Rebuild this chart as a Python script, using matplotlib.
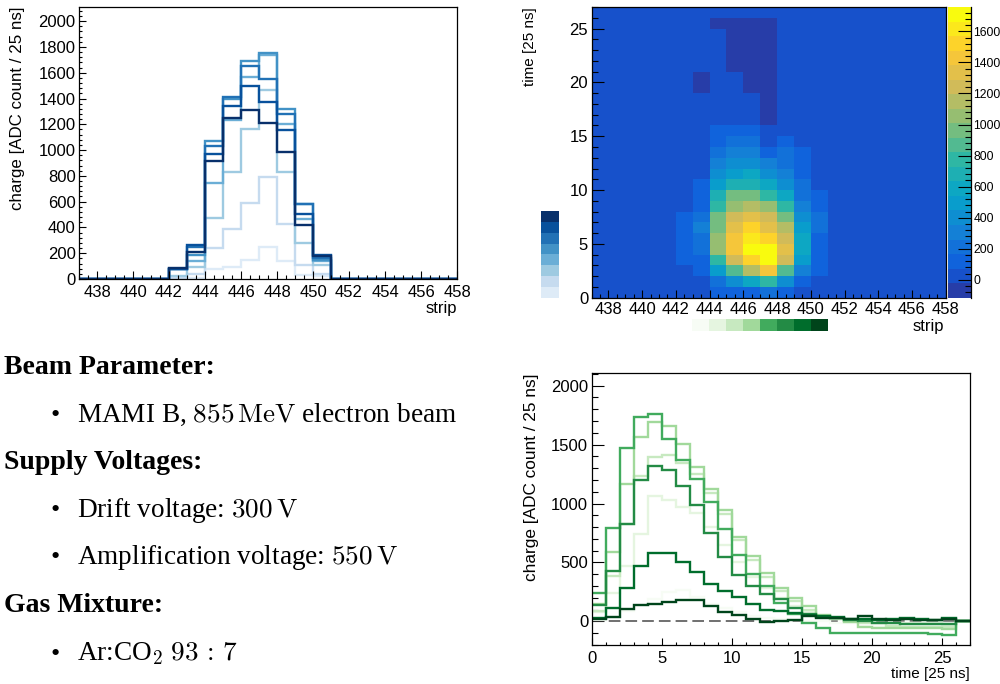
import numpy as np
import matplotlib
matplotlib.use("Agg")
import matplotlib.pyplot as plt
from matplotlib.colors import ListedColormap, BoundaryNorm, LinearSegmentedColormap
from matplotlib.ticker import MultipleLocator

plt.rcParams['font.family'] = ['Liberation Sans', 'DejaVu Sans']
plt.rcParams['mathtext.fontset'] = 'cm'

# ---- binning -------------------------------------------------------------
strip_edges = np.arange(437, 459)      # strips 437 .. 457
time_edges = np.arange(0, 28)          # time bins 0 .. 26 (25 ns each)

# ---- charge per time bin for the strips that see the beam ----------------
q442 = [0, 5, 25, 75, 76, 78, 80, 85, 40, 20, 10, 5, 0, 0, 0, 0, 0, 0, 0, 0, 0, 0, 0, 0, 0, 0, 0]
q443 = [10, 40, 90, 142, 190, 250, 266, 210, 150, 110, 80, 50, 30, 20, 10, 5, 0, -10, -15, -40, -40, -20, -10, -10, -10, -10, 0]
q444 = [78, 240, 473, 744, 1067, 1028, 972, 917, 800, 650, 500, 380, 280, 200, 130, 80, 40, 20, 10, 0, -10, -15, -15, -15, -15, -40, 0]
q445 = [90, 388, 830, 1235, 1395, 1415, 1343, 1248, 1090, 915, 690, 520, 380, 260, 170, 100, 50, 20, 0, -10, -15, -40, -45, -45, -45, -50, 0]
q446 = [150, 587, 1165, 1568, 1690, 1655, 1501, 1313, 1122, 947, 720, 557, 410, 282, 198, 133, 56, 28, -5, -45, -55, -60, -60, -60, -60, -65, 0]
q447 = [245, 790, 1470, 1735, 1757, 1548, 1370, 1209, 1017, 780, 565, 400, 297, 160, 60, -15, -56, -99, -100, -98, -100, -102, -100, -100, -105, -115, 0]
q448 = [141, 424, 828, 1204, 1318, 1281, 1152, 989, 750, 545, 396, 297, 234, 189, 110, 60, 40, 30, 10, 0, -10, -15, -20, -20, -20, -20, 0]
q449 = [28, 110, 283, 466, 579, 579, 503, 420, 320, 254, 204, 144, 99, 85, 71, 51, 45, 35, 20, 20, 15, 20, 30, 20, 15, 30, 0]
q450 = [20, 37, 105, 139, 147, 164, 186, 181, 133, 79, 51, 20, -8, 0, 14, 48, 28, 28, 20, 48, 20, 8, 20, 14, 8, 20, 0]

strip_profiles = {442: q442, 443: q443, 444: q444, 445: q445, 446: q446,
                  447: q447, 448: q448, 449: q449, 450: q450}

slice_times = [0, 1, 2, 3, 4, 5, 6, 7]                      # strip profiles drawn
profile_strips = [443, 444, 445, 446, 447, 448, 449, 450]   # time profiles drawn

blues = ['#deebf7', '#c6dbef', '#9ecae1', '#6baed6', '#4292c6', '#2171b5', '#08519c', '#08306b']
greens = ['#f7fcf5', '#e5f5e0', '#c7e9c0', '#a1d99b', '#41ab5d', '#238b45', '#006d2c', '#00441b']

y_ticks_colz = [0, 200, 400, 600, 800, 1000, 1200, 1400, 1600]

# ---- ROOT "bird" palette, 20 contour levels ------------------------------
bird_stops = [0.0, 0.125, 0.25, 0.375, 0.5, 0.625, 0.75, 0.875, 1.0]
bird_r = [0.2082, 0.0592, 0.0780, 0.0232, 0.1802, 0.5301, 0.8186, 0.9956, 0.9764]
bird_g = [0.1664, 0.3599, 0.5041, 0.6419, 0.7178, 0.7492, 0.7328, 0.7862, 0.9832]
bird_b = [0.5293, 0.8684, 0.8385, 0.7914, 0.6425, 0.4662, 0.3499, 0.1968, 0.0539]
bird = LinearSegmentedColormap.from_list(
    'bird', list(zip(bird_stops, zip(bird_r, bird_g, bird_b))), N=255)
n_levels = 20
bird20 = ListedColormap([bird(int((i + 0.99) * 255 / n_levels) / 254.0) for i in range(n_levels)])

# ---- 2D charge map -------------------------------------------------------
charge = np.zeros((len(time_edges) - 1, len(strip_edges) - 1))
for s, q in strip_profiles.items():
    charge[:, s - strip_edges[0]] = q

levels = np.linspace(charge.min(), charge.max(), n_levels + 1)
norm = BoundaryNorm(levels, n_levels)

W, H = 1000, 684
fig = plt.figure(figsize=(W / 100, H / 100), dpi=100)


def box(x0, y0, x1, y1):
    return [x0 / W, 1 - y1 / H, (x1 - x0) / W, (y1 - y0) / H]


def style_axis(ax, xlen, xmin, ylen, ymin):
    for sp in ax.spines.values():
        sp.set_linewidth(0.9)
        sp.set_color('black')
    ax.tick_params(axis='both', which='both', direction='in', top=False, right=False,
                   width=0.8, colors='black', labelsize=12)
    ax.tick_params(axis='x', which='major', length=xlen, pad=4.0)
    ax.tick_params(axis='x', which='minor', length=xmin)
    ax.tick_params(axis='y', which='major', length=ylen, pad=2.5)
    ax.tick_params(axis='y', which='minor', length=ymin)


def top_ylabel(ax, text, size, xpos):
    # axis title pinned to the upper end of the axis
    ax.set_ylabel(text, fontsize=size, ha='right', va='center')
    ax.yaxis.set_label_coords(xpos, 1.0)


# ---- strip profiles ------------------------------------------------------
ax1 = fig.add_axes(box(79, 7, 457, 279))
for t, c in zip(slice_times, blues):
    ax1.stairs(charge[t], strip_edges, baseline=None, color=c, lw=1.7)
ax1.set_xlim(437, 458)
ax1.set_ylim(0, 2110)
ax1.xaxis.set_major_locator(MultipleLocator(2))
ax1.xaxis.set_minor_locator(MultipleLocator(0.5))
ax1.yaxis.set_major_locator(MultipleLocator(200))
ax1.yaxis.set_minor_locator(MultipleLocator(40))
style_axis(ax1, 5.8, 2.9, 5.0, 2.5)
ax1.set_xlabel('strip', fontsize=12, ha='right', va='center')
ax1.xaxis.set_label_coords(1.0, -0.110)
top_ylabel(ax1, 'charge [ADC count / 25 ns]', 12.2, -0.163)

# ---- strip vs time map ---------------------------------------------------
ax2 = fig.add_axes(box(591.6, 7, 945.7, 297.7))
mesh = ax2.pcolormesh(strip_edges, time_edges, charge, cmap=bird20, norm=norm)
ax2.set_xlim(437, 458)
ax2.set_ylim(0, 27)
ax2.xaxis.set_major_locator(MultipleLocator(2))
ax2.xaxis.set_minor_locator(MultipleLocator(0.5))
ax2.yaxis.set_major_locator(MultipleLocator(5))
ax2.yaxis.set_minor_locator(MultipleLocator(1))
style_axis(ax2, 5.5, 2.8, 8.4, 4.6)
ax2.tick_params(axis='x', which='major', pad=3.0)
ax2.set_xlabel('strip', fontsize=12, ha='right', va='center')
ax2.xaxis.set_label_coords(0.995, -0.100)
top_ylabel(ax2, 'time [25 ns]', 11, -0.174)

# palette axis
cax = fig.add_axes(box(947.5, 7, 970.7, 297.7))
cax.pcolormesh([0, 1], levels, ((levels[:-1] + levels[1:]) / 2)[:, None],
               cmap=bird20, norm=norm)
cax.set_xlim(0, 1)
cax.set_ylim(levels[0], levels[-1])
for sp in cax.spines.values():
    sp.set_visible(False)
cax.spines['right'].set_visible(True)
cax.spines['right'].set_linewidth(0.9)
cax.set_xticks([])
cax.yaxis.tick_right()
cax.set_yticks(y_ticks_colz)
cax.yaxis.set_minor_locator(MultipleLocator(40))
cax.tick_params(axis='y', which='both', direction='in', left=False, right=True,
                width=0.8, colors='black', labelsize=8.7, pad=2)
cax.tick_params(axis='y', which='major', length=9.3)
cax.tick_params(axis='y', which='minor', length=4.5)

# colour keys of the drawn slices
kax_t = fig.add_axes(box(540.7, 211, 559, 298))
kax_t.pcolormesh(np.arange(len(blues))[:, None], cmap=ListedColormap(blues))
kax_t.set_axis_off()

kax_s = fig.add_axes(box(692, 319, 828, 331))
kax_s.pcolormesh(np.arange(len(greens))[None, :], cmap=ListedColormap(greens))
kax_s.set_axis_off()

# ---- time profiles -------------------------------------------------------
ax3 = fig.add_axes(box(591.7, 373.3, 970, 645))
ax3.axhline(0, color='#707070', lw=1.4, ls=(0, (6, 2.6)), zorder=1)
for s, c in zip(profile_strips, greens):
    ax3.stairs(charge[:, s - strip_edges[0]], time_edges, baseline=None, color=c, lw=1.7, zorder=2)
ax3.set_xlim(0, 27)
ax3.set_ylim(-200, 2105)
ax3.xaxis.set_major_locator(MultipleLocator(5))
ax3.xaxis.set_minor_locator(MultipleLocator(1))
ax3.yaxis.set_major_locator(MultipleLocator(500))
ax3.yaxis.set_minor_locator(MultipleLocator(100))
style_axis(ax3, 4.8, 2.4, 8.4, 4.6)
ax3.set_xlabel('time [25 ns]', fontsize=11, ha='right', va='center')
ax3.xaxis.set_label_coords(1.0, -0.107)
top_ylabel(ax3, 'charge [ADC count / 25 ns]', 12.4, -0.159)

# ---- run conditions ------------------------------------------------------
serif = ['Liberation Serif', 'DejaVu Serif']
headings = [('Beam Parameter:', 374.3), ('Supply Voltages:', 469.3), ('Gas Mixture:', 611.7)]
items = [(r'MAMI B, $855\,\mathrm{MeV}$ electron beam', 421.7),
         (r'Drift voltage: $300\,\mathrm{V}$', 516.7),
         (r'Amplification voltage: $550\,\mathrm{V}$', 564.0),
         (r'Ar:CO$_2$ $93\,:\,7$', 660.7)]
for txt, yb in headings:
    fig.text(4 / W, 1 - yb / H, txt, family=serif, weight='bold', fontsize=20,
             ha='left', va='baseline')
for txt, yb in items:
    fig.text(50 / W, 1 - yb / H, '\u2022', family=serif, fontsize=19,
             ha='left', va='baseline')
    fig.text(77 / W, 1 - yb / H, txt, family=serif, fontsize=19.6,
             ha='left', va='baseline')

fig.savefig('out.png', dpi=100)
